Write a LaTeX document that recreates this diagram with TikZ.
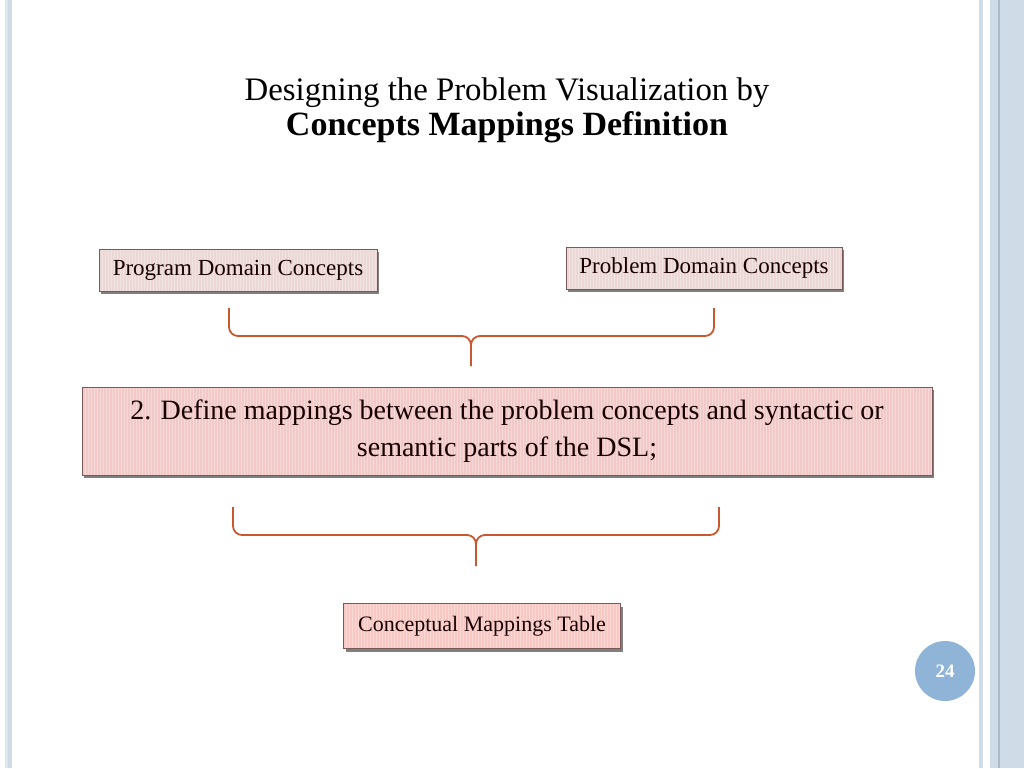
\documentclass[tikz,border=0pt]{standalone}
\usepackage{fontspec}
\setmainfont{Liberation Serif}
\usetikzlibrary{%
  shadows}
\definecolor{slideblue}{HTML}{CFDBE6}
\definecolor{slideline}{HTML}{A9BACB}
\definecolor{boxline}{HTML}{7A5A58}
\definecolor{conceptfill}{HTML}{EBD8D6}
\definecolor{stepfill}{HTML}{F2C9C9}
\definecolor{resultfill}{HTML}{F8C9C4}
\definecolor{braceline}{HTML}{C8582E}
\definecolor{pagecircle}{HTML}{8FB4D8}
\tikzset{
  conceptbox/.style={draw=boxline, line width=1pt, fill=#1, inner sep=0pt,
    text=black!90!red,
    drop shadow={shadow xshift=2pt, shadow yshift=-3pt, opacity=.5, fill=black},
    path picture={\foreach \i in {0,3,...,900}
      \draw[white, opacity=.3, line width=.8pt]
        ([xshift=\i pt]path picture bounding box.south west)
        -- ([xshift=\i pt]path picture bounding box.north west);}},
  bracket/.style={draw=braceline, line width=1.8pt, rounded corners=9pt}
}

\begin{document}
\begin{tikzpicture}[x=1pt,y=-1pt]
\useasboundingbox (0,0) rectangle (1024,768);
% slide border
\fill[slideblue!70] (5,0) rectangle (8,768);
\fill[slideblue] (8,0) rectangle (12,768);
\fill[slideblue] (979,0) rectangle (983,768);
\fill[slideblue] (990,0) rectangle (1024,768);
\fill[slideline] (998,0) rectangle (1000,768);

\node[font=\fontsize{32.8}{38}\selectfont] (title) at (507,93)
  {Designing the Problem Visualization by};
\node[font=\bfseries\fontsize{34}{40}\selectfont] (subtitle) at (507,127)
  {Concepts Mappings Definition};

\node[conceptbox=conceptfill, minimum width=278, minimum height=42,
  font=\fontsize{23}{28}\selectfont] (program) at (238,270) {Program Domain Concepts};
\node[conceptbox=conceptfill, minimum width=276, minimum height=42,
  font=\fontsize{23}{28}\selectfont] (problem) at (704,268) {Problem Domain Concepts};
\node[conceptbox=stepfill, minimum width=850, minimum height=88, align=center,
  font=\fontsize{28}{37}\selectfont] (define) at (507,431)
  {2. Define mappings between the problem concepts and syntactic or\\semantic parts of the DSL;};
\node[conceptbox=resultfill, minimum width=277, minimum height=45,
  font=\fontsize{22}{28}\selectfont] (table) at (482,626) {Conceptual Mappings Table};

% braces
\draw[bracket] (229,308) -- (229,336) -- (471,336) -- (471,366);
\draw[bracket] (714,308) -- (714,336) -- (471,336) -- (471,366);
\draw[bracket] (233,507) -- (233,535) -- (476,535) -- (476,566);
\draw[bracket] (719,507) -- (719,535) -- (476,535) -- (476,566);

\node[circle, fill=pagecircle, minimum size=60, text=white,
  font=\bfseries\fontsize{19}{19}\selectfont] (page) at (945,671) {24};
\end{tikzpicture}
\end{document}
